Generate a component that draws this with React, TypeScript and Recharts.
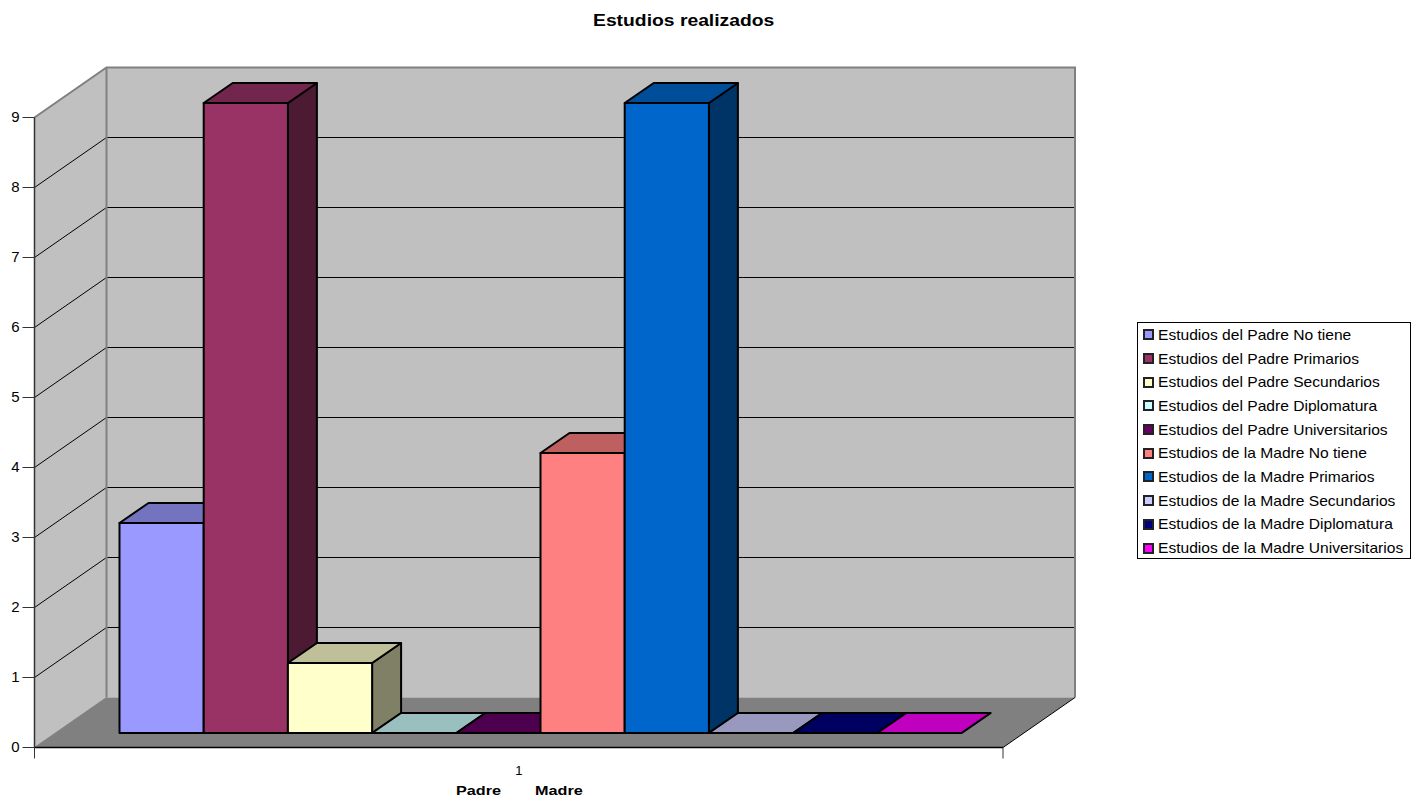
import { BarChart, Bar, XAxis, YAxis, ReferenceArea, Legend } from "recharts";

const CATEGORIES = ["1"];

const SERIES_NAMES = [
  "Estudios del Padre No tiene",
  "Estudios del Padre Primarios",
  "Estudios del Padre Secundarios",
  "Estudios del Padre Diplomatura",
  "Estudios del Padre Universitarios",
  "Estudios de la Madre No tiene",
  "Estudios de la Madre Primarios",
  "Estudios de la Madre Secundarios",
  "Estudios de la Madre Diplomatura",
  "Estudios de la Madre Universitarios",
];

const SERIES_VALUES = [3, 9, 1, 0, 0, 4, 9, 0, 0, 0];

const SERIES_COLORS = [
  "#9999ff",
  "#993366",
  "#ffffcc",
  "#ccffff",
  "#660066",
  "#ff8080",
  "#0066cc",
  "#ccccff",
  "#000080",
  "#ff00ff",
];

const Y_TICKS = [0, 1, 2, 3, 4, 5, 6, 7, 8, 9];
const AXIS_TITLES = ["Padre", "Madre"];

const FONT = '"Liberation Sans", Arial, sans-serif';
const WALL_DX = 72;
const WALL_DY = -50;
const BAR_DX = 22;
const BAR_DY = -14.5;
const BAR_DEPTH_X = 29;
const BAR_DEPTH_Y = -20;

const chartData = CATEGORIES.map((category, i) => {
  const row: Record<string, string | number> = { category };
  SERIES_NAMES.forEach((name, s) => {
    row[name] = [SERIES_VALUES][i][s];
  });
  return row;
});

function shade(hex: string, factor: number) {
  const n = parseInt(hex.slice(1), 16);
  const r = Math.round(((n >> 16) & 255) * factor);
  const g = Math.round(((n >> 8) & 255) * factor);
  const b = Math.round((n & 255) * factor);
  return `rgb(${r},${g},${b})`;
}

function Walls({ x, y, width, height }: any) {
  const left = x;
  const right = x + width;
  const bottom = y + height;
  const unit = height / 9;
  const edge = "#808080";
  return (
    <g>
      <polygon
        points={`${left},${y} ${left + WALL_DX},${y + WALL_DY} ${left + WALL_DX},${bottom + WALL_DY} ${left},${bottom}`}
        fill="#c0c0c0"
      />
      <rect
        x={left + WALL_DX}
        y={y + WALL_DY}
        width={width}
        height={height}
        fill="#c0c0c0"
      />
      <polygon
        points={`${left},${bottom} ${right},${bottom} ${right + WALL_DX},${bottom + WALL_DY} ${left + WALL_DX},${bottom + WALL_DY}`}
        fill="#808080"
      />
      {Y_TICKS.filter((t) => t > 0 && t < 9).map((t) => {
        const ty = bottom - t * unit;
        return (
          <polyline
            key={t}
            points={`${left},${ty} ${left + WALL_DX},${ty + WALL_DY} ${right + WALL_DX},${ty + WALL_DY}`}
            fill="none"
            stroke="#000"
            strokeWidth={1}
          />
        );
      })}
      <polyline
        points={`${left},${y} ${left + WALL_DX},${y + WALL_DY} ${right + WALL_DX},${y + WALL_DY} ${right + WALL_DX},${bottom + WALL_DY}`}
        fill="none"
        stroke={edge}
        strokeWidth={2}
      />
      <line
        x1={left + WALL_DX}
        y1={y + WALL_DY}
        x2={left + WALL_DX}
        y2={bottom + WALL_DY}
        stroke={edge}
        strokeWidth={2}
      />
      <line
        x1={left}
        y1={bottom}
        x2={left + WALL_DX}
        y2={bottom + WALL_DY}
        stroke={edge}
        strokeWidth={1}
      />
      <line
        x1={right}
        y1={bottom}
        x2={right + WALL_DX}
        y2={bottom + WALL_DY}
        stroke="#000"
        strokeWidth={1}
      />
      <line x1={left} y1={bottom} x2={left} y2={bottom + 11} stroke="#333" />
      <line x1={right} y1={bottom} x2={right} y2={bottom + 11} stroke="#333" />
    </g>
  );
}

function Bar3D({ x, y, width, height, fill }: any) {
  const fx = x + BAR_DX;
  const fy = y + BAR_DY;
  const top = `${fx},${fy} ${fx + width},${fy} ${fx + width + BAR_DEPTH_X},${fy + BAR_DEPTH_Y} ${fx + BAR_DEPTH_X},${fy + BAR_DEPTH_Y}`;
  const side = `${fx + width},${fy} ${fx + width + BAR_DEPTH_X},${fy + BAR_DEPTH_Y} ${fx + width + BAR_DEPTH_X},${fy + BAR_DEPTH_Y + height} ${fx + width},${fy + height}`;
  return (
    <g stroke="#000" strokeWidth={2} strokeLinejoin="round">
      <polygon points={side} fill={shade(fill, 0.5)} />
      <polygon points={top} fill={shade(fill, 0.75)} />
      <rect x={fx} y={fy} width={width} height={height} fill={fill} />
    </g>
  );
}

function LegendBox({ payload }: any) {
  return (
    <div
      style={{
        boxSizing: "border-box",
        width: 274,
        height: 237,
        border: "1px solid #000",
        background: "#fff",
        padding: "0 0 0 5px",
        fontFamily: FONT,
        fontSize: 14.5,
        color: "#000",
      }}
    >
      {(payload || []).map((item: any) => (
        <div
          key={item.value}
          style={{
            height: 23.7,
            display: "flex",
            alignItems: "center",
            whiteSpace: "nowrap",
          }}
        >
          <span
            style={{
              boxSizing: "border-box",
              width: 11,
              height: 11,
              marginRight: 4,
              border: "2px solid #222",
              background: item.color,
            }}
          />
          <span
            style={{
              display: "inline-block",
              transform: "scaleX(1.075)",
              transformOrigin: "left center",
            }}
          >
            {item.value}
          </span>
        </div>
      ))}
    </div>
  );
}

export default function App() {
  return (
    <div
      style={{
        position: "absolute",
        left: 0,
        top: 0,
        width: 1419,
        height: 797,
        background: "#fff",
      }}
    >
      <div
        style={{
          position: "absolute",
          left: 593,
          top: 11,
          fontFamily: FONT,
          fontSize: 16.5,
          fontWeight: "bold",
          whiteSpace: "nowrap",
          transform: "scaleX(1.17)",
          transformOrigin: "left center",
          zIndex: 2,
        }}
      >
        Estudios realizados
      </div>
      {AXIS_TITLES.map((title, i) => (
        <div
          key={title}
          style={{
            position: "absolute",
            left: i === 0 ? 456 : 535,
            top: 783,
            fontFamily: FONT,
            fontSize: 13.5,
            fontWeight: "bold",
            transform: "scaleX(1.2)",
            transformOrigin: "left center",
            zIndex: 2,
          }}
        >
          {title}
        </div>
      ))}
      <BarChart
        width={1419}
        height={797}
        data={chartData}
        margin={{ top: 117.5, right: 416, bottom: 0, left: 0 }}
        barGap={0}
        barSize={84.2}
      >
        <XAxis
          dataKey="category"
          height={49.5}
          axisLine={{ stroke: "#000", strokeWidth: 1.5 }}
          tickLine={false}
          tickMargin={12}
          tick={{ fill: "#000", fontFamily: FONT, fontSize: 13 }}
        />
        <YAxis
          width={34.5}
          domain={[0, 9]}
          ticks={Y_TICKS}
          interval={0}
          tickSize={12}
          tickMargin={3}
          axisLine={{ stroke: "#333", strokeWidth: 1.5 }}
          tickLine={{ stroke: "#333" }}
          tick={{ fill: "#000", fontFamily: FONT, fontSize: 15, dy: -1 }}
        />
        <ReferenceArea y1={0} y2={9} shape={Walls} />
        <Legend
          layout="vertical"
          align="center"
          verticalAlign="middle"
          itemSorter={null}
          content={LegendBox}
          wrapperStyle={{ left: 1137, top: 322, width: 274, height: 237 }}
        />
        {SERIES_NAMES.map((name, i) => (
          <Bar
            key={name}
            dataKey={name}
            name={name}
            fill={SERIES_COLORS[i]}
            shape={Bar3D}
            isAnimationActive={false}
          />
        ))}
      </BarChart>
    </div>
  );
}
